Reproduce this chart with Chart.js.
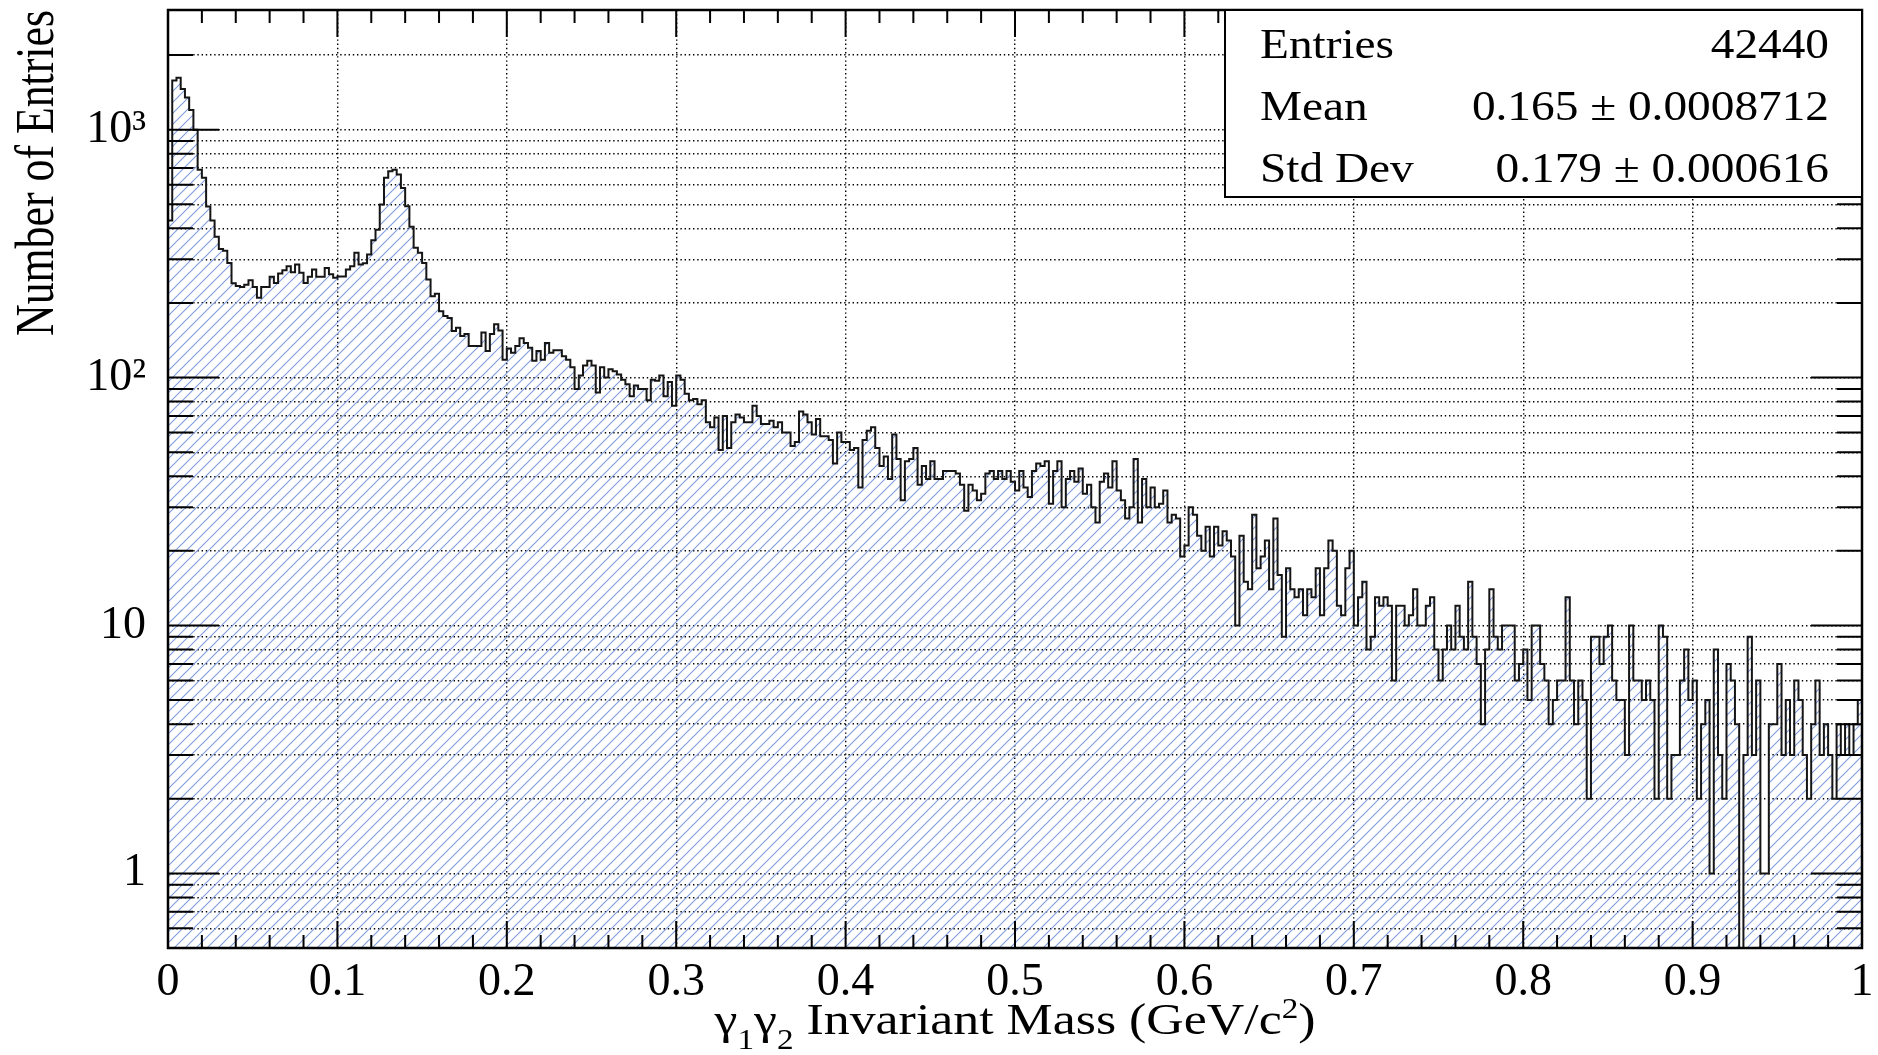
<!DOCTYPE html>
<html>
<head>
<meta charset="utf-8">
<title>Invariant mass</title>
<script src="https://cdn.jsdelivr.net/npm/chart.js@4.4.1/dist/chart.umd.min.js"></script>
<style>
  html, body { margin: 0; padding: 0; background: #fff; }
  #hist { display: block; }
</style>
</head>
<body>
<canvas id="hist" width="1878" height="1055"></canvas>
<script>
// histogram range and binning (400 bins between binLow and binHigh)
const binLow = 0;
const binHigh = 1;

const counts = [
  430, 1580, 1620, 1460, 1350, 1200, 1000, 690, 640, 490, 430, 370, 330, 325, 290, 240, 234, 232, 237, 247,
  232, 210, 232, 232, 255, 241, 263, 271, 281, 266, 286, 265, 241, 255, 273, 255, 255, 277, 261, 253,
  256, 256, 273, 281, 319, 286, 289, 314, 358, 395, 499, 640, 680, 690, 659, 582, 491, 406, 334, 319,
  290, 249, 213, 218, 185, 177, 174, 154, 159, 147, 150, 134, 134, 134, 152, 128, 150, 164, 155, 118,
  131, 126, 134, 144, 138, 132, 117, 128, 118, 138, 126, 129, 129, 122, 118, 110, 90, 102, 112, 117,
  112, 87, 110, 100, 108, 106, 103, 98, 94, 84, 93, 90, 90, 81, 98, 97, 102, 84, 96, 77,
  102, 98, 86, 81, 82, 78, 81, 66, 63, 69, 51, 70, 52, 66, 71, 69, 66, 66, 77, 70,
  65, 65, 67, 63, 66, 60, 60, 53, 55, 73, 71, 66, 59, 68, 58, 58, 56, 45, 60, 55,
  55, 51, 52, 36, 56, 61, 63, 52, 44, 48, 39, 59, 47, 32, 46, 47, 52, 37, 44, 39,
  46, 39, 39, 42, 42, 42, 41, 37, 29, 37, 35, 32, 34, 41, 42, 39, 42, 39, 42, 38,
  35, 42, 36, 33, 42, 45, 44, 46, 31, 42, 46, 30, 39, 42, 38, 43, 34, 37, 30, 26,
  38, 41, 36, 46, 35, 32, 27, 30, 47, 26, 39, 30, 36, 30, 31, 35, 26, 28, 27, 19,
  21, 30, 28, 23, 20, 25, 19, 25, 21, 24, 22, 19, 10, 23, 15, 14, 28, 17, 19, 22,
  14, 27, 16, 9, 17, 14, 13, 14, 11, 14, 13, 17, 11, 17, 22, 20, 12, 11, 17, 20,
  10, 13, 15, 8, 9, 13, 12, 13, 12, 6, 12, 12, 10, 11, 14, 10, 10, 12, 13, 8,
  6, 8, 10, 8, 12, 9, 8, 15, 9, 7, 4, 8, 14, 9, 8, 10, 10, 10, 6, 7,
  8, 5, 10, 10, 7, 6, 4, 5, 6, 6, 13, 6, 4, 6, 5, 2, 9, 9, 7, 9,
  10, 6, 5, 5, 3, 10, 6, 6, 5, 6, 5, 2, 10, 9, 2, 3, 3, 6, 8, 5,
  6, 2, 4, 5, 1, 8, 3, 2, 7, 6, 4, 0, 3, 9, 3, 6, 1, 1, 4, 4,
  7, 3, 5, 3, 6, 5, 3, 2, 4, 6, 3, 4, 3, 2, 4, 3, 4, 3, 4, 5
];

// axis ranges
const xMin = 0, xMax = 1;
const yMin = 0.5, yMax = 3040;

const xTickValues = [0, 0.1, 0.2, 0.3, 0.4, 0.5, 0.6, 0.7, 0.8, 0.9, 1];
const xTickLabels = ['0', '0.1', '0.2', '0.3', '0.4', '0.5', '0.6', '0.7', '0.8', '0.9', '1'];

const yTickValues = [
  0.6, 0.7, 0.8, 0.9,
  1, 2, 3, 4, 5, 6, 7, 8, 9,
  10, 20, 30, 40, 50, 60, 70, 80, 90,
  100, 200, 300, 400, 500, 600, 700, 800, 900,
  1000, 2000
];
const yTickLabels = [
  '', '', '', '',
  '1', '', '', '', '', '', '', '', '',
  '10', '', '', '', '', '', '', '', '',
  '10\u00b2', '', '', '', '', '', '', '', '',
  '10\u00b3', ''
];

const statNames = ['Entries', 'Mean', 'Std Dev'];
const statValues = ['42440', '0.165 \u00b1 0.0008712', '0.179 \u00b1 0.000616'];

const yTitle = 'Number of Entries';
// x title pieces: plain text, subscripts and the superscript
const xTitleRuns = [
  { t: '\u03b3' }, { t: '1', sub: true }, { t: '\u03b3' }, { t: '2', sub: true },
  { t: ' Invariant Mass (GeV/c' }, { t: '2', sup: true }, { t: ')' }
];

const SERIF = '"Liberation Serif", "DejaVu Serif", serif';

// light blue "/" hatching like ROOT fill style 3004
function hatch() {
  const s = 11;
  const c = document.createElement('canvas');
  c.width = s; c.height = s;
  const g = c.getContext('2d');
  g.strokeStyle = 'rgb(128,156,222)';
  g.lineWidth = 1.1;
  g.beginPath();
  g.moveTo(-2, s + 2); g.lineTo(s + 2, -2);
  g.moveTo(-2, 2); g.lineTo(2, -2);
  g.moveTo(s - 2, s + 2); g.lineTo(s + 2, s - 2);
  g.stroke();
  return g.createPattern(c, 'repeat');
}

// one point per low bin edge plus the closing upper edge; empty bins sit on the axis floor
const binWidth = (binHigh - binLow) / counts.length;
const points = counts.map((c, i) => ({ x: binLow + i * binWidth, y: c > 0 ? c : yMin }));
points.push({ x: binHigh, y: points[points.length - 1].y });

function drawRuns(ctx, runs, size, cx, base, targetW) {
  let total = 0;
  runs.forEach(r => {
    r.size = (r.sub || r.sup) ? size * 0.64 : size;
    ctx.font = r.size + 'px ' + SERIF;
    r.w = ctx.measureText(r.t).width;
    total += r.w;
  });
  const sx = targetW / total;
  ctx.save();
  ctx.translate(cx - targetW / 2, base);
  ctx.scale(sx, 1);
  let px = 0;
  runs.forEach(r => {
    ctx.font = r.size + 'px ' + SERIF;
    const dy = r.sub ? size * 0.33 : (r.sup ? -size * 0.36 : 0);
    ctx.fillText(r.t, px, dy);
    px += r.w;
  });
  ctx.restore();
}

const rootFrame = {
  id: 'rootFrame',
  afterDatasetsDraw(chart) {
    const { ctx, chartArea: a, scales: { x, y } } = chart;
    ctx.save();

    // tick marks inside the frame on all four sides
    ctx.strokeStyle = '#000';
    ctx.lineWidth = 2;
    ctx.beginPath();
    for (let k = 0; k <= 50; k++) {
      const px = x.getPixelForValue(k * 0.02);
      const len = k % 5 === 0 ? 27 : 13;
      ctx.moveTo(px, a.bottom); ctx.lineTo(px, a.bottom - len);
      ctx.moveTo(px, a.top); ctx.lineTo(px, a.top + len);
    }
    yTickValues.forEach((v, i) => {
      const py = y.getPixelForValue(v);
      const len = yTickLabels[i] ? 51 : 25;
      ctx.moveTo(a.left, py); ctx.lineTo(a.left + len, py);
      ctx.moveTo(a.right, py); ctx.lineTo(a.right - len, py);
    });
    ctx.stroke();

    ctx.lineWidth = 2.5;
    ctx.strokeRect(a.left, a.top, a.right - a.left, a.bottom - a.top);

    // statistics box
    const bx = 1225, by = a.top, bw = a.right - bx, bh = 187;
    ctx.fillStyle = '#fff';
    ctx.fillRect(bx, by, bw, bh);
    ctx.lineWidth = 2;
    ctx.strokeRect(bx, by, bw, bh);

    ctx.fillStyle = '#000';
    ctx.font = '43px ' + SERIF;
    const sx = 134 / ctx.measureText(statNames[0]).width;
    statNames.forEach((name, i) => {
      const base = by + 48 + i * 62;
      ctx.save();
      ctx.translate(1260, base);
      ctx.scale(sx, 1);
      ctx.textAlign = 'left';
      ctx.fillText(name, 0, 0);
      ctx.restore();
      ctx.save();
      ctx.translate(1829, base);
      ctx.scale(sx, 1);
      ctx.textAlign = 'right';
      ctx.fillText(statValues[i], 0, 0);
      ctx.restore();
    });

    // axis titles
    drawRuns(ctx, xTitleRuns, 45, (a.left + a.right) / 2, 1034, 601);

    ctx.font = '54px ' + SERIF;
    const ly = 326 / ctx.measureText(yTitle).width;
    ctx.save();
    ctx.translate(53, a.top);
    ctx.rotate(-Math.PI / 2);
    ctx.scale(ly, 1);
    ctx.textAlign = 'right';
    ctx.fillText(yTitle, 0, 0);
    ctx.restore();

    ctx.restore();
  }
};

new Chart(document.getElementById('hist'), {
  type: 'line',
  data: {
    datasets: [{
      data: points,
      stepped: 'before',
      borderColor: '#151515',
      borderWidth: 2,
      pointRadius: 0,
      fill: 'start',
      backgroundColor: hatch()
    }]
  },
  options: {
    responsive: false,
    animation: false,
    devicePixelRatio: 1,
    layout: { padding: { top: 10, right: 16, left: 0, bottom: 0 } },
    plugins: { legend: { display: false }, tooltip: { enabled: false } },
    scales: {
      x: {
        type: 'linear',
        min: xMin,
        max: xMax,
        afterBuildTicks: s => { s.ticks = xTickValues.map(v => ({ value: v })); },
        afterFit: s => { s.height = 107; s.paddingLeft = 0; s.paddingRight = 0; },
        ticks: {
          autoSkip: false,
          maxRotation: 0,
          padding: 7,
          color: '#000',
          font: { family: SERIF, size: 46 },
          callback: v => xTickLabels[xTickValues.indexOf(v)]
        },
        grid: { color: '#000', lineWidth: 1.4, drawTicks: false },
        border: { display: false, dash: [1.4, 2.8] }
      },
      y: {
        type: 'logarithmic',
        min: yMin,
        max: yMax,
        afterBuildTicks: s => { s.ticks = yTickValues.map(v => ({ value: v })); },
        afterFit: s => { s.width = 168; s.paddingTop = 0; s.paddingBottom = 0; },
        ticks: {
          autoSkip: false,
          padding: 22,
          color: '#000',
          font: { family: SERIF, size: 46 },
          callback: v => yTickLabels[yTickValues.indexOf(v)] || ''
        },
        grid: { color: '#000', lineWidth: 1.4, drawTicks: false },
        border: { display: false, dash: [1.4, 2.8] }
      }
    }
  },
  plugins: [rootFrame]
});
</script>
</body>
</html>
